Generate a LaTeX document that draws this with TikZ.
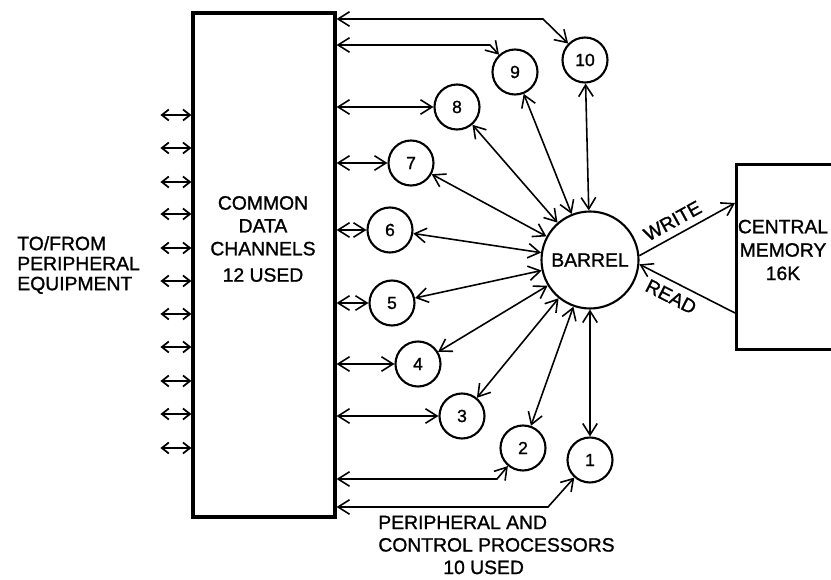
\documentclass[tikz,border=0pt]{standalone}
\usepackage{fontspec}
\setmainfont{Liberation Sans}[FakeBold=1.2]
\usetikzlibrary{arrows.meta}

\tikzset{
  >={Straight Barb[length=2.3mm,width=2.9mm]},
  unit/.style={draw, circle, line width=1.2pt, minimum size=0.9cm, inner sep=0pt},
  link/.style={<->, line width=0.9pt},
  stub/.style={{Straight Barb[length=1.4mm,width=2.2mm]}-{Straight Barb[length=1.4mm,width=2.2mm]}, line width=1pt},
  heavybox/.style={draw, line width=1.8pt, inner sep=0pt},
  txt/.style={inner sep=0pt, font=\fontsize{11}{13}\selectfont},
}

\begin{document}
\begin{tikzpicture}[x=0.2mm,y=-0.2mm]
\clip (0,0) rectangle (831,580);
% data channels and outside stubs
\node[heavybox, minimum width=2.84cm, minimum height=10.08cm] (cdc) at (264,265) {};
\node[txt, align=center] (cdctext) at (263,239) {COMMON\\DATA\\CHANNELS\\[2pt]12 USED};
\foreach \y in {115,148,182,214,248,281,314,347,381,414,448}
  \draw[stub] (cdc.west |- 0,\y) -- ++(-31,0);
\node[txt, align=left, anchor=west, font=\fontsize{11}{11.4}\selectfont] (peq) at (17,265) {TO/FROM\\PERIPHERAL\\EQUIPMENT};

% processors
\node[unit] (c1) at (590,460) {1};
\node[unit] (c2) at (523,448) {2};
\node[unit] (c3) at (462,416) {3};
\node[unit] (c4) at (418,364) {4};
\node[unit] (c5) at (392,303) {5};
\node[unit] (c6) at (390,230) {6};
\node[unit] (c7) at (411,163) {7};
\node[unit] (c8) at (457,107) {8};
\node[unit] (c9) at (515,72) {9};
\node[unit] (c10) at (585,60) {10};
\node[draw, circle, line width=1.2pt, minimum size=1.94cm, inner sep=0pt, font=\fontsize{11}{13}\selectfont] (barrel) at (590,260) {BARREL};

\foreach \n in {3,...,8}
  \draw[link] (cdc.east |- c\n) -- (c\n);
\draw[link] (cdc.east |- 0,19) -- (543,19) -- (c10);
\draw[link] (cdc.east |- 0,45) -- (490,45) -- (c9);
\draw[link] (cdc.east |- 0,479) -- (497,479) -- (c2);
\draw[link] (cdc.east |- 0,507) -- (548,507) -- (c1);
\foreach \n in {1,...,10}
  \draw[link] (c\n) -- (barrel);

\node[txt, align=left, anchor=west, font=\fontsize{11}{12.8}\selectfont] (ppu) at (378,545) {PERIPHERAL AND\\CONTROL PROCESSORS\\\hspace*{1.3cm}10 USED};

% central memory
\node[heavybox, anchor=north west, minimum width=2.6cm, minimum height=3.7cm] (mem) at (735,163) {};
\node[txt, align=center, font=\fontsize{11}{13.3}\selectfont] (memtext) at (783,250) {CENTRAL\\MEMORY\\16K};
\draw[->, line width=0.9pt] (barrel.5) -- (mem.west |- 0,203) node[txt, pos=0.42, above=4pt, sloped] {WRITE};
\draw[->, line width=0.9pt] (mem.west |- 0,313) -- (barrel.-5) node[txt, pos=0.6, below=4pt, sloped] {READ};
\end{tikzpicture}
\end{document}
